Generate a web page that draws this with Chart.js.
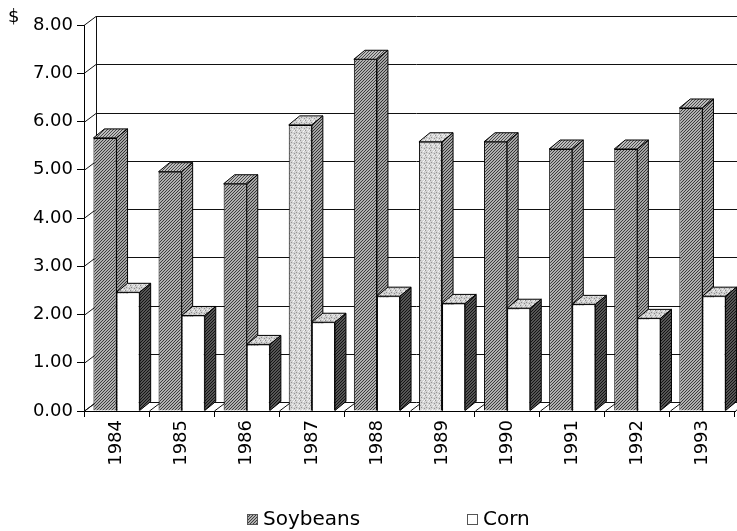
<!DOCTYPE html>
<html>
<head>
<meta charset="utf-8">
<script src="https://cdn.jsdelivr.net/npm/chart.js@4/dist/chart.umd.min.js"></script>
<style>html,body{margin:0;background:#fff}canvas{display:block}</style>
</head>
<body>
<canvas id="c" width="737" height="531"></canvas>
<script>
// 大豆とトウモロコシの価格（ドル）
const years = ['1984', '1985', '1986', '1987', '1988', '1989', '1990', '1991', '1992', '1993'];
const soybeans = [5.66, 4.96, 4.71, 5.93, 7.29, 5.58, 5.58, 5.43, 5.43, 6.28];
const corn = [2.46, 1.98, 1.38, 1.84, 2.38, 2.23, 2.13, 2.21, 1.92, 2.38];
const yTicks = [0, 1, 2, 3, 4, 5, 6, 7, 8];
const lightYears = ['1987', '1989']; // 元図で点描（明るい）になっている年

const FONT = 'DejaVu Sans';
const DX = 11, DY = -9;   // 棒の奥行き
const WX = 12, WY = -9;   // 壁の奥行き

const cv = document.getElementById('c');
const cx = cv.getContext('2d');

// 小さなタイルで模様を作る
function tile(n, base, dots) {
  const t = document.createElement('canvas'); t.width = n; t.height = n;
  const g = t.getContext('2d');
  g.fillStyle = base; g.fillRect(0, 0, n, n);
  dots.forEach(([x, y, c]) => { g.fillStyle = c; g.fillRect(x, y, 1, 1); });
  return cx.createPattern(t, 'repeat');
}
const hatch = (base, ink) => tile(3, base, [[0, 2, ink], [1, 1, ink], [2, 0, ink]]);
const stipple = (base, ink, hi) => tile(5, base, [[0, 0, ink], [3, 1, hi], [1, 2, ink], [4, 3, ink], [2, 4, hi], [4, 0, hi]]);

const soyFront = hatch('#b0b0b0', '#3c3c3c');
const soySide = hatch('#a4a4a4', '#333333');
const soyTop = hatch('#bcbcbc', '#4a4a4a');
const lightFront = stipple('#d4d4d4', '#949494', '#f4f4f4');
const cornTop = stipple('#cfcfcf', '#8c8c8c', '#f0f0f0');
const cornSide = hatch('#555555', '#141414');

// 上面と側面（奥行き）を描く
function extrude(chart, index) {
  const { ctx } = chart;
  const ds = chart.data.datasets[index];
  ctx.save();
  ctx.strokeStyle = '#000'; ctx.lineWidth = 1;
  chart.getDatasetMeta(index).data.forEach((bar, i) => {
    const { x, y, width, base } = bar.getProps(['x', 'y', 'width', 'base'], true);
    const l = x - width / 2, r = x + width / 2;
    ctx.beginPath();
    ctx.moveTo(l, y); ctx.lineTo(l + DX, y + DY); ctx.lineTo(r + DX, y + DY); ctx.lineTo(r, y); ctx.closePath();
    ctx.fillStyle = Array.isArray(ds.topFill) ? ds.topFill[i] : ds.topFill; ctx.fill(); ctx.stroke();
    ctx.beginPath();
    ctx.moveTo(r, y); ctx.lineTo(r + DX, y + DY); ctx.lineTo(r + DX, base + DY); ctx.lineTo(r, base); ctx.closePath();
    ctx.fillStyle = ds.sideFill; ctx.fill(); ctx.stroke();
  });
  ctx.restore();
}

const depth3d = {
  id: 'depth3d',
  beforeDatasetsDraw(chart) {
    const { ctx, chartArea: a, scales: { y } } = chart;
    ctx.save();
    ctx.strokeStyle = '#111'; ctx.lineWidth = 1;
    yTicks.forEach(v => {
      const py = Math.round(y.getPixelForValue(v)) + 0.5;
      ctx.beginPath();
      ctx.moveTo(a.left, py); ctx.lineTo(a.left + WX, py + WY); ctx.lineTo(chart.width, py + WY);
      ctx.stroke();
    });
    ctx.beginPath();
    ctx.moveTo(a.left + WX + 0.5, a.top + WY); ctx.lineTo(a.left + WX + 0.5, a.bottom + WY);
    ctx.stroke();
    const step = (a.right - a.left) / years.length;
    for (let i = 0; i <= years.length; i++) {
      const px = Math.round(a.left + i * step) + 0.5;
      ctx.beginPath(); ctx.moveTo(px, a.bottom); ctx.lineTo(px + WX, a.bottom + WY); ctx.stroke();
    }
    ctx.restore();
    // Chart.js は後ろのデータセットから描くので、大豆の奥行きは先に描いておく
    extrude(chart, 0);
  },
  afterDatasetDraw(chart, args) {
    if (args.index === 1) extrude(chart, 1);
  },
  afterDraw(chart) {
    const { ctx } = chart;
    ctx.save();
    ctx.fillStyle = '#000'; ctx.textBaseline = 'middle';
    ctx.font = `18px "${FONT}"`;
    ctx.fillText('$', 8, 17);
    // 凡例
    const items = [[247, chart.data.datasets[0]], [467, chart.data.datasets[1]]];
    ctx.font = `20px "${FONT}"`;
    items.forEach(([lx, ds]) => {
      ctx.fillStyle = ds.legendFill; ctx.fillRect(lx, 514, 10, 10);
      ctx.strokeStyle = '#555'; ctx.strokeRect(lx + 0.5, 514.5, 10, 10);
      ctx.fillStyle = '#000'; ctx.fillText(ds.label, lx + 16, 520);
    });
    ctx.restore();
  }
};

new Chart(cv, {
  type: 'bar',
  data: {
    labels: years,
    datasets: [
      {
        label: 'Soybeans', data: soybeans,
        backgroundColor: years.map(y => lightYears.includes(y) ? lightFront : soyFront),
        topFill: years.map(y => lightYears.includes(y) ? lightFront : soyTop),
        sideFill: soySide, legendFill: soyFront,
        borderColor: '#000', borderWidth: 1,
        categoryPercentage: 0.71, barPercentage: 1,
      },
      {
        label: 'Corn', data: corn,
        backgroundColor: '#fff', topFill: cornTop, sideFill: cornSide, legendFill: '#fff',
        borderColor: '#000', borderWidth: 1,
        categoryPercentage: 0.71, barPercentage: 1,
      },
    ],
  },
  options: {
    responsive: false, animation: false, devicePixelRatio: 1,
    layout: { padding: { top: 25, right: 2, left: 0, bottom: 0 } },
    plugins: { legend: { display: false }, tooltip: { enabled: false } },
    scales: {
      x: {
        offset: true,
        grid: { drawOnChartArea: false, drawTicks: true, tickLength: 6, color: '#000', offset: true },
        border: { display: true, color: '#000' },
        ticks: { minRotation: 90, maxRotation: 90, padding: 3, color: '#000', font: { family: FONT, size: 18 } },
        afterFit: s => { s.height = 531 - 411; },
      },
      y: {
        min: 0, max: 8,
        afterBuildTicks: s => { s.ticks = yTicks.map(v => ({ value: v })); },
        grid: { drawOnChartArea: false, tickLength: 7, color: '#000' },
        border: { display: true, color: '#000' },
        ticks: { callback: v => v.toFixed(2), padding: 4, color: '#000', font: { family: FONT, size: 18 } },
        afterFit: s => { s.width = 84; },
      },
    },
  },
  plugins: [depth3d],
});
</script>
</body>
</html>
